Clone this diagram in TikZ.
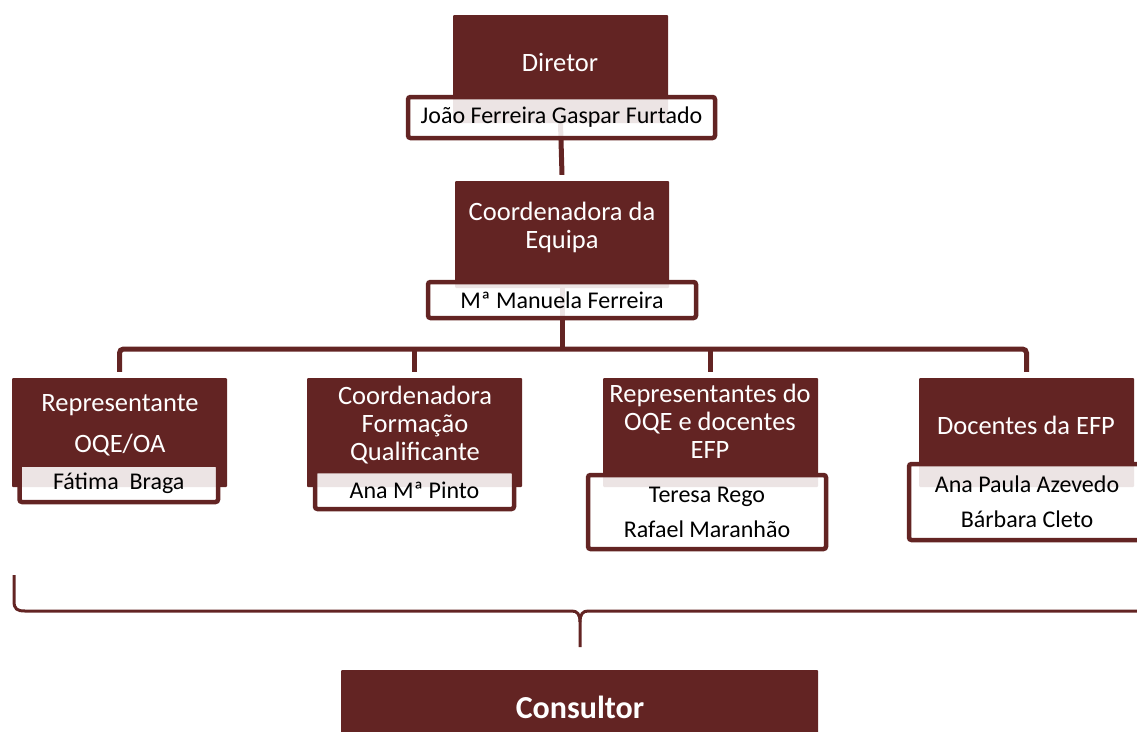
\documentclass[tikz,border=0pt]{standalone}
\usepackage{fontspec}
\setmainfont{Carlito}
\usetikzlibrary{backgrounds}
\definecolor{dk}{RGB}{99,36,35}
\begin{document}
\begin{tikzpicture}[x=1pt,y=-1pt,
  titlebox/.style={fill=dk, draw=none, inner sep=0pt, rounded corners=1pt},
  namebox/.style={draw=dk, line width=4.5pt, fill=white, fill opacity=0.88, text opacity=1,
    rounded corners=2.5pt, inner sep=0pt, align=center,
    font=\fontsize{24}{35}\selectfont},
  titletext/.style={text=white, align=center, inner sep=0pt, font=\fontsize{26.5}{28}\selectfont},
  conn/.style={draw=dk, line width=5pt},
  bracestyle/.style={draw=dk, line width=3pt}
]
\useasboundingbox (0,0) rectangle (1137,731);

% title boxes
\node[titlebox, minimum width=215pt, minimum height=108pt] (dir) at (560.5,69) {};
\node[titlebox, minimum width=214pt, minimum height=107pt] (coord) at (562,234.5) {};
\node[titlebox, minimum width=215pt, minimum height=109pt] (t1) at (119.5,432.5) {};
\node[titlebox, minimum width=215pt, minimum height=109pt] (t2) at (414.5,432.5) {};
\node[titlebox, minimum width=215pt, minimum height=109pt] (t3) at (710.5,432.5) {};
\node[titlebox, minimum width=215pt, minimum height=109pt] (t4) at (1026.5,432.5) {};
\node[titlebox, minimum width=477pt, minimum height=75pt] (cons) at (579.5,707.5) {};

% name boxes
\node[namebox, minimum width=307pt, minimum height=41pt] (dirname) at (561.5,117.5) {João Ferreira Gaspar Furtado};
\node[namebox, minimum width=268pt, minimum height=36pt] (coordname) at (562,300) {Mª Manuela Ferreira};
\node[namebox, minimum width=198.5pt, minimum height=37.5pt] (n1) at (118.75,483.25) {Fátima\ \ Braga};
\node[namebox, minimum width=199pt, minimum height=38pt] (n2) at (414.5,490) {Ana Mª Pinto};
\node[namebox, minimum width=238pt, minimum height=74pt] (n3) at (707,512) {Teresa Rego\\Rafael Maranhão};
\node[namebox, minimum width=236pt, minimum height=76pt] (n4) at (1027,502) {Ana Paula Azevedo\\Bárbara Cleto};

% title texts
\node[titletext] (dirt) at (560,62) {Diretor};
\node[titletext] (coordt) at (562,227.5) {Coordenadora da\\Equipa};
\node[titletext] (t1t) at (120,425.5) {Representante\\[13pt]OQE/OA};
\node[titletext] (t2t) at (415,425) {Coordenadora\\Formação\\Qualificante};
\node[titletext] (t3t) at (710,421.5) {Representantes do\\OQE e docentes\\EFP};
\node[titletext] (t4t) at (1026,425) {Docentes da EFP};
\node[text=white, inner sep=0pt, font=\fontsize{32}{36}\selectfont\bfseries] (const) at (580,707) {Consultor};

% connectors
\coordinate (bar) at (562,349);
\begin{pgfonlayer}{background}
\draw[conn] (dir.south) -- ([yshift=6pt]coord.north);
\draw[conn] (coord.south) -- (bar);
\draw[conn, rounded corners=4pt] ([yshift=6pt]t1.north) |- (bar) -| ([yshift=6pt]t4.north);
\draw[conn] ([yshift=6pt]t2.north) -- (t2.north |- bar);
\draw[conn] ([yshift=6pt]t3.north) -- (t3.north |- bar);
\end{pgfonlayer}

% brace
\coordinate (bl) at (14,575);
\coordinate (btip) at (580,647);
\coordinate (br) at (1165,575);
\draw[bracestyle] (bl) -- (14,601) .. controls (14,609) and (17,611) .. (25,611)
  -- (572,611) .. controls (577,611) and (580,614) .. (580,622) -- (btip);
\draw[bracestyle] (br) -- (1165,601) .. controls (1165,609) and (1162,611) .. (1154,611)
  -- (588,611) .. controls (583,611) and (580,614) .. (580,622);
\end{tikzpicture}
\end{document}
